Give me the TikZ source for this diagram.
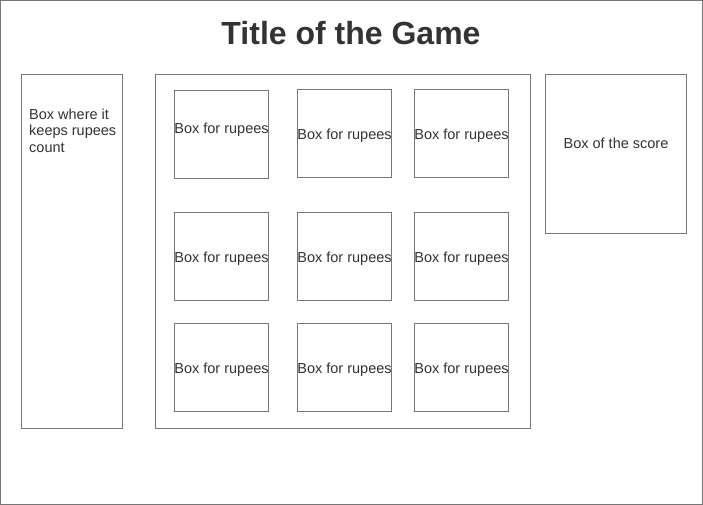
\documentclass[tikz,border=0pt]{standalone}
\usepackage{fontspec}
\setmainfont{Liberation Sans}
\definecolor{linegray}{HTML}{777777}
\definecolor{textgray}{HTML}{333333}
\tikzset{
  frame/.style={draw=linegray, line width=1pt, fill=white, inner sep=0pt, outer sep=0pt, anchor=north west},
  lbl/.style={text=textgray, font=\fontsize{14.5}{16.5}\selectfont, inner sep=0pt},
  rupee/.style={frame, minimum width=94pt, minimum height=88pt}
}
\begin{document}
\begin{tikzpicture}[x=1pt,y=-1pt]
\useasboundingbox (0,0) rectangle (703,505);
\node[frame, minimum width=702pt, minimum height=503.5pt] (outer) at (0.5,0.5) {};
\node[text=textgray, font=\fontsize{32}{38}\selectfont\bfseries, inner sep=0pt] (title) at (351,33) {Title of the Game};
% left box
\node[frame, minimum width=101pt, minimum height=354pt] (left) at (21.5,74.5) {};
\node[lbl, anchor=north west, align=left] (lefttext) at (29,108.5) {Box where it\\keeps rupees\\count};
% middle container
\node[frame, minimum width=375pt, minimum height=354pt] (mid) at (155.5,74.5) {};
% right box
\node[frame, minimum width=141pt, minimum height=159pt] (score) at (545.5,74.5) {};
\node[lbl] (scoretext) at (616,143.5) {Box of the score};
% rupee boxes
\node[rupee] (r11) at (174.5,90.5) {};
\node[rupee] (r12) at (297.5,89.5) {};
\node[rupee] (r13) at (414.5,89.5) {};
\node[rupee] (r21) at (174.5,212.5) {};
\node[rupee] (r22) at (297.5,212.5) {};
\node[rupee] (r23) at (414.5,212.5) {};
\node[rupee] (r31) at (174.5,323.5) {};
\node[rupee] (r32) at (297.5,323.5) {};
\node[rupee] (r33) at (414.5,323.5) {};
\node[lbl] (t11) at ([yshift=4.5pt]r11.center) {Box for rupees};
\node[lbl] (t12) at ([yshift=-2.5pt]r12.center) {Box for rupees};
\node[lbl] (t13) at ([yshift=-2.5pt]r13.center) {Box for rupees};
\node[lbl] (t21) at ([yshift=-2.5pt]r21.center) {Box for rupees};
\node[lbl] (t22) at ([yshift=-2.5pt]r22.center) {Box for rupees};
\node[lbl] (t23) at ([yshift=-2.5pt]r23.center) {Box for rupees};
\node[lbl] (t31) at ([yshift=-2.5pt]r31.center) {Box for rupees};
\node[lbl] (t32) at ([yshift=-2.5pt]r32.center) {Box for rupees};
\node[lbl] (t33) at ([yshift=-2.5pt]r33.center) {Box for rupees};
\end{tikzpicture}
\end{document}
